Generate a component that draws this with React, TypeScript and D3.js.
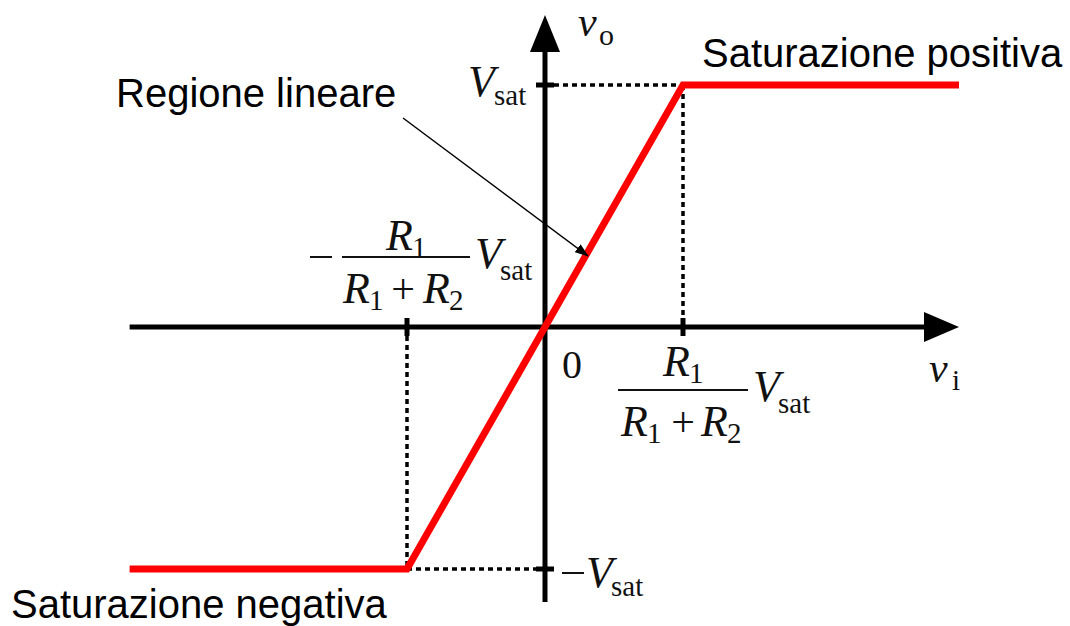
import React from "react";
import * as d3 from "d3";

// ---- data ----
const inputLevels = [-3.01, -1, 1, 3.0]; // v_i (in units of R1/(R1+R2)·Vsat)
const outputLevels = [-1, -1, 1, 1]; // v_o (in units of Vsat)
const xAxisExtent = [-3.01, 3.0];
const yAxisExtent = [-1.136, 1.289];
const thresholds = [-1, 1];
const regionLabels = ["Saturazione positiva", "Regione lineare", "Saturazione negativa"];

const W = 1070;
const H = 626;
const x = d3.scaleLinear().domain([-1, 1]).range([407, 683]);
const y = d3.scaleLinear().domain([-1, 1]).range([569, 85]);

const SERIF = "'Liberation Serif', 'Times New Roman', serif";
const SANS = "'Liberation Sans', Arial, sans-serif";

type Piece = { t: string; x: number; y: number; it?: boolean; s?: number; a?: string };

const M = ({ p }: { p: Piece[] }) => (
  <g fontFamily={SERIF} fill="#111">
    {p.map((q, i) => (
      <text
        key={i}
        x={q.x}
        y={q.y}
        fontSize={q.s ?? 44}
        fontStyle={q.it ? "italic" : "normal"}
        textAnchor={q.a ?? "start"}
      >
        {q.t}
      </text>
    ))}
  </g>
);

export default function App() {
  const pts = inputLevels.map((v, i) => [x(v), y(outputLevels[i])] as [number, number]);
  const line = d3.line()(pts) || "";
  const x0 = x(0);
  const y0 = y(0);
  const xl = x(xAxisExtent[0]);
  const xr = x(xAxisExtent[1]);
  const yt = y(yAxisExtent[1]);
  const yb = y(yAxisExtent[0]);
  const xa = x(thresholds[0]);
  const xb = x(thresholds[1]);
  const yHi = y(1);
  const yLo = y(-1);
  const dash = "5 4";
  const sub = 29;

  return (
    <svg
      width={W}
      height={H}
      viewBox={`0 0 ${W} ${H}`}
      style={{ position: "absolute", left: 0, top: 0, background: "#fff" }}
    >
      <defs>
        <marker id="ah" markerWidth="14" markerHeight="10" refX="13" refY="5" orient="auto" markerUnits="userSpaceOnUse">
          <path d="M0,0 L14,5 L0,10 Z" fill="#000" />
        </marker>
      </defs>
      <rect width={W} height={H} fill="#fff" />

      {/* dotted guides */}
      <g stroke="#000" strokeWidth={3.5} strokeDasharray={dash} fill="none">
        <line x1={x0} y1={yHi} x2={xb} y2={yHi} />
        <line x1={xb} y1={yHi} x2={xb} y2={y0} />
        <line x1={xa} y1={y0} x2={xa} y2={yLo} />
        <line x1={xa} y1={yLo} x2={x0} y2={yLo} />
      </g>

      {/* axes */}
      <g stroke="#000" strokeWidth={5}>
        <line x1={xl} y1={y0} x2={xr - 30} y2={y0} />
        <line x1={x0} y1={yb} x2={x0} y2={yt + 30} />
        {/* ticks */}
        <line x1={xa} y1={y0 - 9} x2={xa} y2={y0 + 9} />
        <line x1={xb} y1={y0 - 9} x2={xb} y2={y0 + 9} />
        <line x1={x0 - 9} y1={yHi} x2={x0 + 9} y2={yHi} />
        <line x1={x0 - 9} y1={yLo} x2={x0 + 9} y2={yLo} />
      </g>
      <path d={`M${xr},${y0} L${xr - 35},${y0 - 15} L${xr - 35},${y0 + 15} Z`} fill="#000" />
      <path d={`M${x0},${yt} L${x0 - 15},${yt + 37} L${x0 + 15},${yt + 37} Z`} fill="#000" />

      {/* transfer characteristic */}
      <path d={line} fill="none" stroke="#ff0000" strokeWidth={7} strokeLinejoin="miter" />

      {/* annotation arrow */}
      <line x1={403} y1={118} x2={588} y2={256} stroke="#000" strokeWidth={1.5} markerEnd="url(#ah)" />

      {/* region labels */}
      <g fontFamily={SANS} fontSize={40} fill="#000">
        <text x={702} y={67}>{regionLabels[0]}</text>
        <text x={116} y={107}>{regionLabels[1]}</text>
        <text x={11} y={618}>{regionLabels[2]}</text>
      </g>

      {/* math labels */}
      <M p={[{ t: "v", x: 578, y: 36, it: true, s: 42 }, { t: "o", x: 599, y: 45, s: 30 }]} />
      <M p={[{ t: "V", x: 468, y: 96, it: true }, { t: "sat", x: 494, y: 105, s: sub }]} />
      <M p={[{ t: "0", x: 562, y: 378, s: 40 }]} />
      <M p={[{ t: "v", x: 929, y: 382, it: true, s: 42 }, { t: "i", x: 952, y: 390, s: sub }]} />

      {/* −Vsat */}
      <line x1={562} y1={573} x2={584} y2={573} stroke="#111" strokeWidth={2} />
      <M p={[{ t: "V", x: 586, y: 587, it: true }, { t: "sat", x: 611, y: 596, s: sub }]} />

      {/* left fraction: −R1/(R1+R2) Vsat */}
      <line x1={310} y1={257} x2={332} y2={257} stroke="#111" strokeWidth={2} />
      <line x1={342} y1={257} x2={470} y2={257} stroke="#111" strokeWidth={2} />
      <M
        p={[
          { t: "R", x: 386, y: 250, it: true },
          { t: "1", x: 412, y: 257, s: sub },
          { t: "R", x: 343, y: 303, it: true },
          { t: "1", x: 369, y: 310, s: sub },
          { t: "+", x: 403, y: 303, s: 42, a: "middle" },
          { t: "R", x: 423, y: 303, it: true },
          { t: "2", x: 449, y: 310, s: sub },
          { t: "V", x: 475, y: 268, it: true },
          { t: "sat", x: 500, y: 280, s: sub },
        ]}
      />

      {/* right fraction: R1/(R1+R2) Vsat */}
      <line x1={618} y1={390} x2={748} y2={390} stroke="#111" strokeWidth={2} />
      <M
        p={[
          { t: "R", x: 663, y: 376, it: true },
          { t: "1", x: 689, y: 383, s: sub },
          { t: "R", x: 621, y: 436, it: true },
          { t: "1", x: 647, y: 443, s: sub },
          { t: "+", x: 683, y: 436, s: 42, a: "middle" },
          { t: "R", x: 701, y: 436, it: true },
          { t: "2", x: 727, y: 443, s: sub },
          { t: "V", x: 753, y: 401, it: true },
          { t: "sat", x: 778, y: 413, s: sub },
        ]}
      />
    </svg>
  );
}
